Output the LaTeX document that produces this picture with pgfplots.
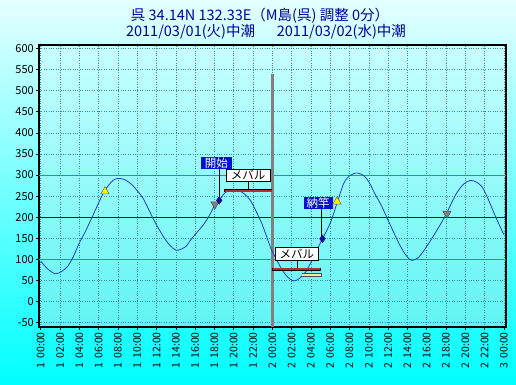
\documentclass[border=0pt]{standalone}
\usepackage{pgfplots}
\pgfplotsset{compat=1.18}
\usepackage{fontspec}
\setmainfont{Noto Sans CJK JP}
\definecolor{bgtop}{HTML}{E4FFFF}
\definecolor{bgbot}{HTML}{00FFFF}
\definecolor{pltop}{HTML}{C8FFFF}
\definecolor{plbot}{HTML}{60F4F4}
\definecolor{tide}{HTML}{2040C0}
\definecolor{redline}{HTML}{E04848}
\definecolor{navyline}{HTML}{101090}
\definecolor{gridc}{HTML}{3A8CA0}
\definecolor{lblue}{HTML}{0010D0}
\definecolor{barred}{HTML}{B03030}
\definecolor{baryel}{HTML}{F0F0A0}
\definecolor{titleblue}{HTML}{0000A0}
\newcommand{\tl}[2]{\mbox{#1\hspace{0.45em}#2}}
\begin{document}
\begin{tikzpicture}[x=1pt,y=1pt]
\useasboundingbox (0,0) rectangle (516,384);
\shade[top color=bgtop,bottom color=bgbot] (0,0) rectangle (516,384);
\node[text=titleblue,font=\fontsize{14.5}{16}\selectfont,inner sep=0pt] at (260,368) {呉 34.14N 132.33E（M島(呉) 調整 0分）};
\node[text=titleblue,font=\fontsize{14.5}{16}\selectfont,inner sep=0pt] at (266,352) {2011/03/01(火)中潮\hspace{1.5em}2011/03/02(水)中潮};
\begin{axis}[
  at={(39pt,57pt)}, anchor=south west, scale only axis,
  width=467pt, height=282pt,
  xmin=-0.18, xmax=48.22, ymin=-60, ymax=608,
  axis background/.style={shade, top color=pltop, bottom color=plbot},
  axis line style={black, line width=1.5pt},
  xtick={0,2,...,48},
  xticklabels={\tl{1}{00:00},\tl{1}{02:00},\tl{1}{04:00},\tl{1}{06:00},\tl{1}{08:00},\tl{1}{10:00},\tl{1}{12:00},\tl{1}{14:00},\tl{1}{16:00},\tl{1}{18:00},\tl{1}{20:00},\tl{1}{22:00},\tl{2}{00:00},\tl{2}{02:00},\tl{2}{04:00},\tl{2}{06:00},\tl{2}{08:00},\tl{2}{10:00},\tl{2}{12:00},\tl{2}{14:00},\tl{2}{16:00},\tl{2}{18:00},\tl{2}{20:00},\tl{2}{22:00},\tl{3}{00:00}},
  ytick={-50,0,...,600},
  grid=major,
  major grid style={gridc, dotted, line width=0.6pt},
  tick pos=left, tick align=outside, major tick length=3pt,
  tick style={black, line width=0.6pt},
  xticklabel style={rotate=90, anchor=east, font=\fontsize{10.5}{12}\selectfont, inner sep=2pt},
  yticklabel style={font=\fontsize{11}{12}\selectfont, inner sep=2pt},
  /pgf/number format/assume math mode=true,
  clip=false,
]
\addplot[redline, line width=1pt] coordinates {(-0.18,300) (48.22,300)};
\addplot[redline, line width=1pt] coordinates {(-0.18,100) (48.22,100)};
\addplot[navyline, line width=0.8pt] coordinates {(-0.18,200) (48.22,200)};
\addplot[gray, line width=2.5pt] coordinates {(24,-60) (24,540)};
\addplot[tide, line width=0.8pt, smooth, tension=0.5] coordinates {
(0,96) (0.7,78) (1.5,66) (2.2,72) (2.8,84) (3.4,108) (4.0,139) (4.6,165) (5.2,194) (5.8,224)
(6.4,253) (7.0,275) (7.6,289) (8.15,292) (8.8,288) (9.5,276) (10.0,263) (10.6,245) (11.2,218)
(11.8,190) (12.3,170) (12.8,151) (13.4,133) (14.0,122) (14.5,124) (15.06,131) (15.5,145)
(16.0,159) (16.85,182) (17.5,205) (18.06,230) (18.5,240) (19.1,258) (19.7,265) (20.3,266)
(21.0,257) (21.7,241) (22.3,215) (22.9,186) (23.4,155) (23.9,124) (24.5,97) (25.0,76)
(25.6,58) (26.2,49) (26.8,55) (27.4,69) (27.9,88) (28.4,112) (29.2,149) (30.0,186) (30.7,233)
(31.4,280) (32.0,298) (32.7,305) (33.2,302) (33.6,296) (34.1,280) (34.6,257) (35.3,228)
(35.9,198) (36.5,168) (37.1,139) (37.7,115) (38.2,101) (38.6,98) (39.2,106) (39.8,124)
(40.4,145) (41.0,167) (41.6,190) (42.1,211) (42.6,235) (43.1,257) (43.8,278) (44.5,287)
(45.1,284) (45.7,273) (46.2,252) (46.7,225) (47.3,193) (48.0,159)};
% connectors
\addplot[black, line width=0.6pt] coordinates {(18.48,320) (18.48,240)};
\addplot[black, line width=0.6pt] coordinates {(21.5,290) (21.5,263)};
\addplot[black, line width=0.6pt] coordinates {(26.6,100) (26.6,76.5)};
\addplot[black, line width=0.6pt] coordinates {(29.1,225) (29.1,149)};
% bars
\addplot[black, line width=3.6pt] coordinates {(19.0,263) (24.0,263)};
\addplot[barred, line width=2pt] coordinates {(19.05,263) (23.95,263)};
\addplot[black, line width=3.6pt] coordinates {(24.0,76.5) (29.0,76.5)};
\addplot[barred, line width=2pt] coordinates {(24.05,76.5) (28.95,76.5)};
\addplot[black!70, line width=3.6pt] coordinates {(27.05,63) (29.1,63)};
\addplot[baryel, line width=2pt] coordinates {(27.1,63) (29.05,63)};
% markers
\addplot[only marks, mark=triangle*, mark size=4.8pt, mark options={fill=yellow, draw=black!60, line width=0.5pt}] coordinates {(6.66,261) (30.7,237)};
\addplot[only marks, mark=triangle*, mark size=4.8pt, mark options={rotate=180, fill=gray, draw=black!70, line width=0.5pt}] coordinates {(18.06,231) (42.1,209)};
\addplot[only marks, mark=diamond*, mark size=3.8pt, mark options={fill=navyline, draw=navyline}] coordinates {(18.5,240) (29.2,149)};
% labels
\node[fill=lblue, text=white, inner sep=0pt, minimum width=31pt, minimum height=12.5pt, font=\fontsize{11.5}{12}\selectfont] at (axis cs:18.2,328) {開始};
\node[fill=white, draw=black, line width=0.6pt, inner sep=0pt, minimum width=44pt, minimum height=12pt, font=\fontsize{11.5}{12}\selectfont] at (axis cs:21.5,300.5) {メバル};
\node[fill=white, draw=black, line width=0.6pt, inner sep=0pt, minimum width=43pt, minimum height=13pt, font=\fontsize{11.5}{12}\selectfont] at (axis cs:26.55,114) {メバル};
\node[fill=lblue, text=white, inner sep=0pt, minimum width=29pt, minimum height=12.5pt, font=\fontsize{11.5}{12}\selectfont] at (axis cs:28.75,234) {納竿};
\end{axis}
\end{tikzpicture}
\end{document}
